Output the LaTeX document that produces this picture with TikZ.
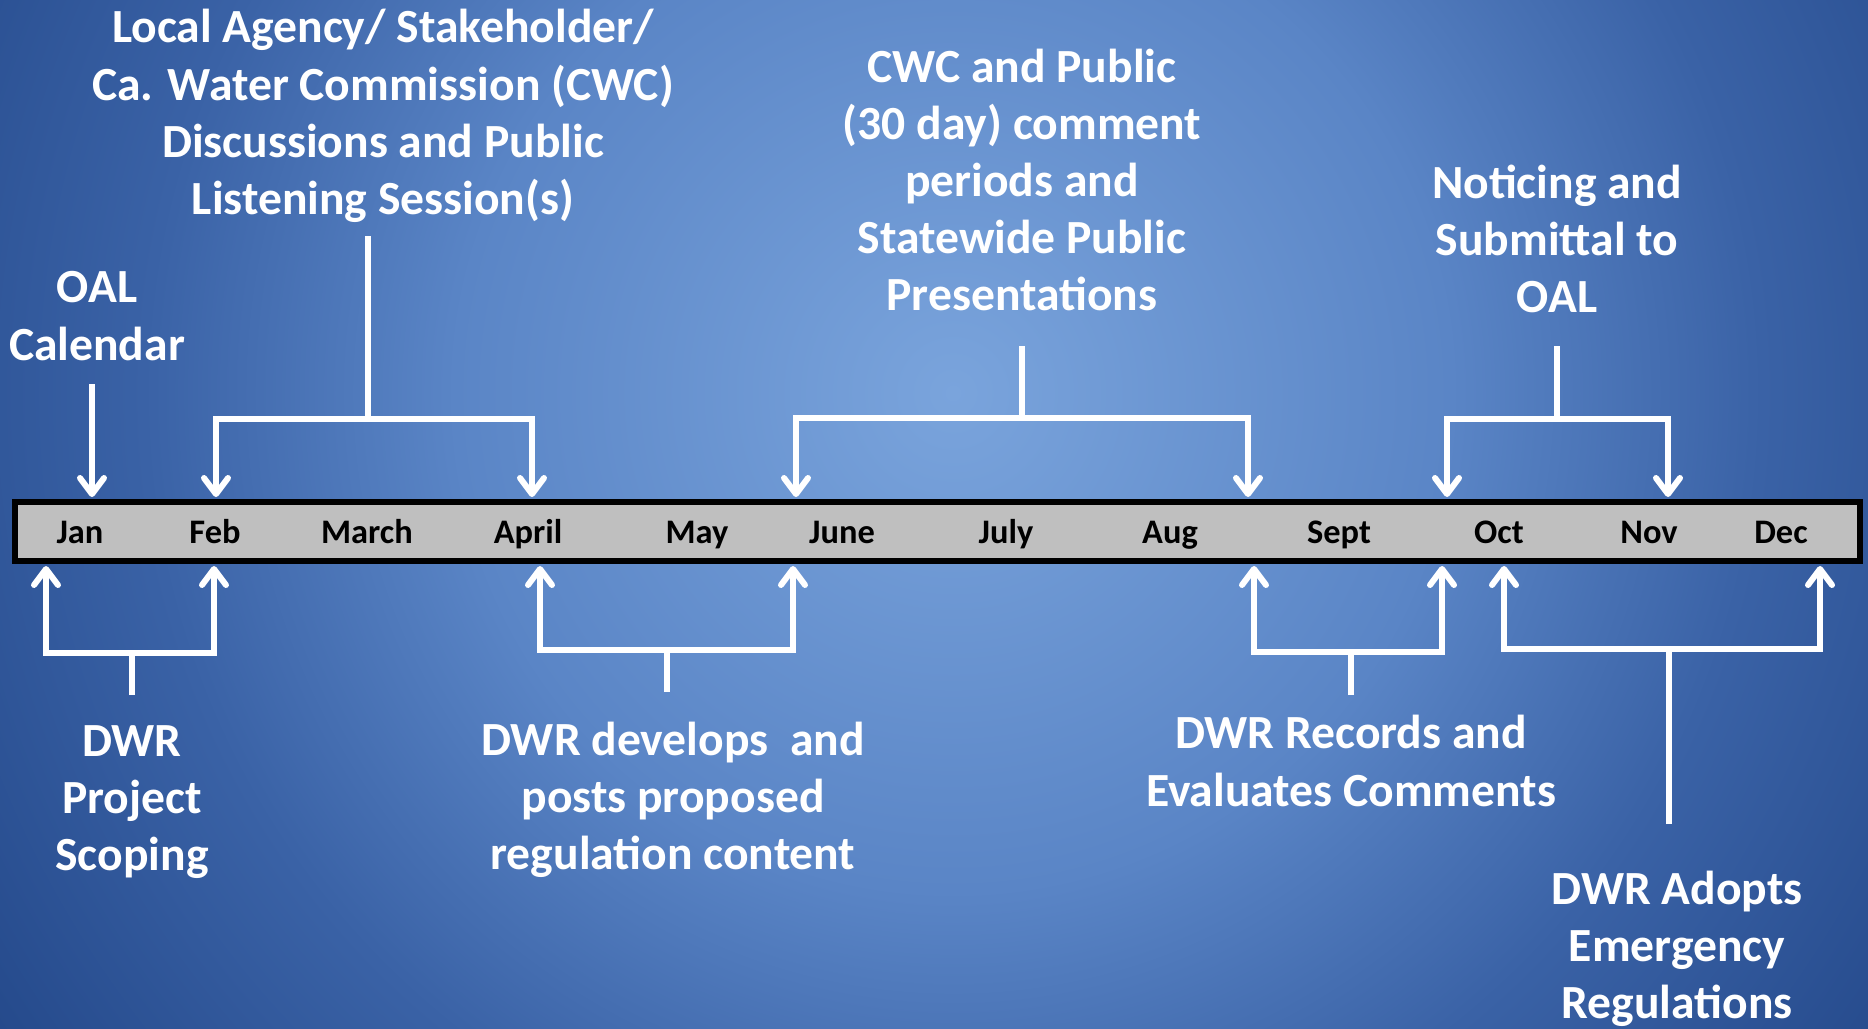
\documentclass[tikz,border=0pt]{standalone}
\usepackage{fontspec}
\setmainfont{Carlito}
\usepackage{tikz}
\usetikzlibrary{arrows.meta}
\definecolor{bglight}{HTML}{7AA4DC}
\definecolor{bgmid}{HTML}{5A85C6}
\definecolor{bgdeep}{HTML}{3A62A6}
\definecolor{bgdark}{HTML}{1F4384}
\definecolor{bgedge}{HTML}{143274}
\definecolor{bargray}{HTML}{BFBFBF}
\pgfdeclareradialshading{bgglow}{\pgfpoint{0bp}{0bp}}{color(0bp)=(bglight); color(8bp)=(bgmid); color(13bp)=(bgdeep); color(20bp)=(bgdark); color(25bp)=(bgedge); color(50bp)=(bgedge)}
\tikzset{my_timeline/.style={x=0.5pt,y=-0.5pt,line join=miter}}
\tikzset{tl_bar/.style={draw=black, line width=3pt, fill=bargray, inner sep=0pt, minimum width=922.5pt, minimum height=29.5pt}}
\tikzset{tl_month/.style={anchor=base, inner sep=0pt, font=\bfseries\fontsize{17.2}{20}\selectfont}}
\tikzset{tl_text/.style={text=white, align=center, inner sep=0pt, font=\bfseries\fontsize{23.8}{28.6}\selectfont}}
\tikzset{tl_line/.style={draw=white, line width=3pt}}
\tikzset{tl_arrow/.style={tl_line, -{Straight Barb[length=8pt,width=12pt,round]}}}

\begin{document}
\begin{tikzpicture}[my_timeline]
    \useasboundingbox (0,0) rectangle (1868,1028);
    \begin{scope}
        \clip (0,0) rectangle (1868,1028);
        \shade[shading=bgglow] (953,393) circle (778pt);
    \end{scope}

    % the year
    \node[tl_bar] (bar) at (937.5,531.5) {};
    \foreach \m/\x in {Jan/80,Feb/215,March/367,April/528,May/697,June/842,July/1006,Aug/1170,Sept/1339,Oct/1499,Nov/1649,Dec/1781}
        \node[tl_month] (\m) at (\x,543) {\m};

    % labels
    \node[tl_text] (oal) at (97,316) {OAL\\Calendar};
    \node[tl_text] (lag) at (383,116) {Local Agency/ Stakeholder/\\Ca. Water Commission (CWC)\\Discussions and Public\\Listening Session(s)};
    \node[tl_text] (cwc) at (1022,180) {CWC and Public\\(30 day) comment\\periods and\\Statewide Public\\Presentations};
    \node[tl_text] (ntc) at (1557,239) {Noticing and\\Submittal to\\OAL};
    \node[tl_text] (scp) at (132,802) {DWR\\Project\\Scoping};
    \node[tl_text] (dev) at (673,800) {DWR develops~ and\\posts proposed\\regulation content};
    \node[tl_text] (rec) at (1351,761) {DWR Records and\\Evaluates Comments};
    \node[tl_text] (adp) at (1677,949) {DWR Adopts\\Emergency\\Regulations};

    % above the bar
    \coordinate (oal_s) at (92,384);
    \coordinate (oal_t) at (92,497);
    \draw[tl_arrow] (oal_s) -- (oal_t);

    \coordinate (lag_s) at (368,236);
    \coordinate (lag_j) at (368,419);
    \coordinate (lag_l) at (216,497);
    \coordinate (lag_r) at (532,497);
    \draw[tl_line] (lag_s) -- (lag_j);
    \draw[tl_arrow] (lag_j) -| (lag_l);
    \draw[tl_arrow] (lag_j) -| (lag_r);

    \coordinate (cwc_s) at (1022,346);
    \coordinate (cwc_j) at (1022,418);
    \coordinate (cwc_l) at (796,497);
    \coordinate (cwc_r) at (1248,497);
    \draw[tl_line] (cwc_s) -- (cwc_j);
    \draw[tl_arrow] (cwc_j) -| (cwc_l);
    \draw[tl_arrow] (cwc_j) -| (cwc_r);

    \coordinate (ntc_s) at (1557,346);
    \coordinate (ntc_j) at (1557,419);
    \coordinate (ntc_l) at (1447,497);
    \coordinate (ntc_r) at (1668,497);
    \draw[tl_line] (ntc_s) -- (ntc_j);
    \draw[tl_arrow] (ntc_j) -| (ntc_l);
    \draw[tl_arrow] (ntc_j) -| (ntc_r);

    % below the bar
    \coordinate (scp_s) at (132,695);
    \coordinate (scp_j) at (132,653);
    \coordinate (scp_l) at (46,566);
    \coordinate (scp_r) at (214,566);
    \draw[tl_line] (scp_s) -- (scp_j);
    \draw[tl_arrow] (scp_j) -| (scp_l);
    \draw[tl_arrow] (scp_j) -| (scp_r);

    \coordinate (dev_s) at (667,692);
    \coordinate (dev_j) at (667,650);
    \coordinate (dev_l) at (540,566);
    \coordinate (dev_r) at (793,566);
    \draw[tl_line] (dev_s) -- (dev_j);
    \draw[tl_arrow] (dev_j) -| (dev_l);
    \draw[tl_arrow] (dev_j) -| (dev_r);

    \coordinate (rec_s) at (1351,695);
    \coordinate (rec_j) at (1351,652);
    \coordinate (rec_l) at (1254,566);
    \coordinate (rec_r) at (1442,566);
    \draw[tl_line] (rec_s) -- (rec_j);
    \draw[tl_arrow] (rec_j) -| (rec_l);
    \draw[tl_arrow] (rec_j) -| (rec_r);

    \coordinate (adp_s) at (1669,824);
    \coordinate (adp_j) at (1669,649);
    \coordinate (adp_l) at (1504,566);
    \coordinate (adp_r) at (1820,566);
    \draw[tl_line] (adp_s) -- (adp_j);
    \draw[tl_arrow] (adp_j) -| (adp_l);
    \draw[tl_arrow] (adp_j) -| (adp_r);
\end{tikzpicture}
\end{document}
